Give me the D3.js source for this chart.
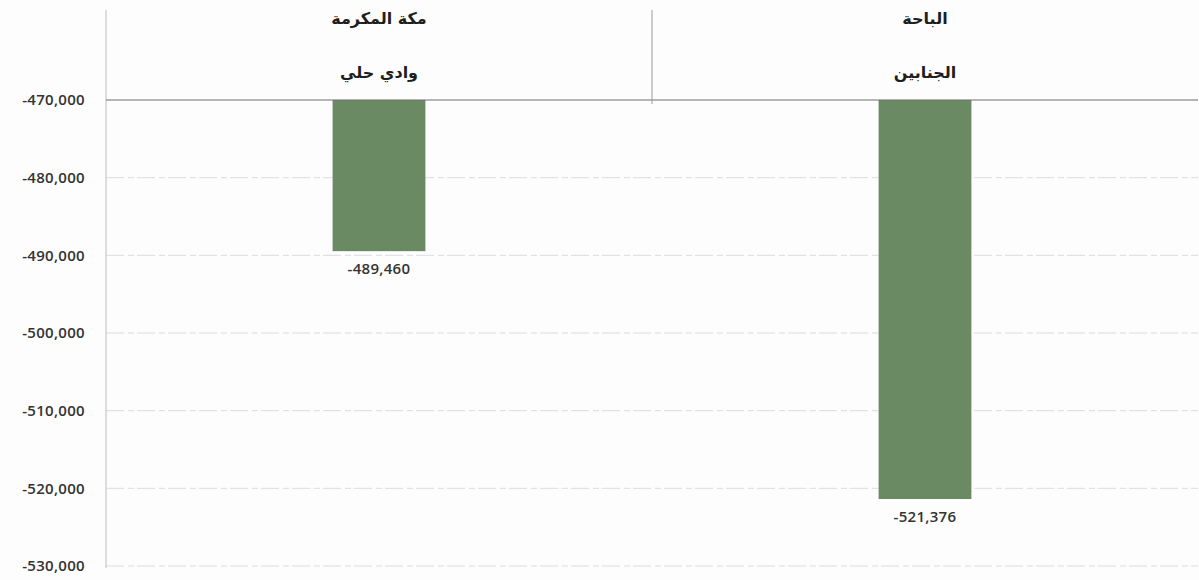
<!DOCTYPE html>
<html><head><meta charset="utf-8">
<script src="https://cdn.jsdelivr.net/npm/d3@7"></script>
<style>
html,body{margin:0;padding:0;background:#fdfdfd;}
svg{display:block;}
</style></head>
<body>
<svg id="chart" width="1199" height="580"></svg>
<script>
const regions = ["مكة المكرمة", "الباحة"];
const places = ["وادي حلي", "الجنابين"];
const values = [-489460, -521376];
const tickValues = [-470000, -480000, -490000, -500000, -510000, -520000, -530000];

(function () {
const svg = d3.select("#chart");
const mLeft = 106, mRight = 1198, mTop = 100, mBottom = 566;
const fmt = d3.formatLocale({decimal: ".", thousands: ",", grouping: [3], currency: ["", ""], minus: "-"}).format(",");
const numFont = "'Open Sans', 'Liberation Sans', sans-serif";

const x = d3.scaleBand().domain(d3.range(values.length)).range([mLeft, mRight]).padding(0);
const y = d3.scaleLinear().domain([-470000, -530000]).range([mTop, mBottom]);

// gridlines
svg.append("g").selectAll("line").data(tickValues.slice(1)).join("line")
  .attr("x1", mLeft).attr("x2", mRight)
  .attr("y1", d => y(d)).attr("y2", d => y(d))
  .attr("stroke", "#dcdcdc").attr("stroke-width", 1).attr("stroke-dasharray", "18,4,6,3");

// y axis
const yAxis = d3.axisLeft(y).tickValues(tickValues).tickFormat(fmt).tickSize(0).tickPadding(21);
const ya = svg.append("g").attr("transform", `translate(${mLeft},0)`).call(yAxis);
ya.select(".domain").remove();
ya.selectAll("text").attr("font-family", numFont)
  .attr("font-size", 15).attr("font-weight", 600).attr("letter-spacing", 0.3).attr("fill", "#333");
svg.append("line").attr("x1", mLeft).attr("x2", mLeft).attr("y1", 10).attr("y2", 568)
  .attr("stroke", "#bdbdbd").attr("stroke-width", 1);

// bars
const bw = x.bandwidth() * 0.17;
svg.append("g").selectAll("rect").data(values).join("rect")
  .attr("x", (d, i) => x(i) + x.bandwidth() / 2 - bw / 2)
  .attr("width", bw)
  .attr("y", y(-470000))
  .attr("height", d => y(d) - y(-470000))
  .attr("fill", "#6a8a63");

// value labels
svg.append("g").selectAll("text").data(values).join("text")
  .attr("x", (d, i) => x(i) + x.bandwidth() / 2)
  .attr("y", d => y(d) + 23)
  .attr("text-anchor", "middle")
  .attr("font-family", numFont)
  .attr("font-size", 15).attr("font-weight", 600).attr("letter-spacing", 0.3).attr("fill", "#333")
  .text(d => fmt(d));

// top category axis line
svg.append("line").attr("x1", mLeft).attr("x2", mRight).attr("y1", mTop).attr("y2", mTop)
  .attr("stroke", "#6f6f6f").attr("stroke-width", 1.2);

// category separators
svg.append("g").selectAll("line").data(d3.range(1, values.length)).join("line")
  .attr("x1", d => x(d)).attr("x2", d => x(d))
  .attr("y1", 10).attr("y2", mTop + 4)
  .attr("stroke", "#9a9a9a").attr("stroke-width", 1);

// category labels
const catFont = "'DejaVu Sans', 'Noto Sans', sans-serif";
svg.append("g").selectAll("text").data(regions).join("text")
  .attr("x", (d, i) => x(i) + x.bandwidth() / 2)
  .attr("y", 24)
  .attr("text-anchor", "middle").attr("direction", "rtl")
  .attr("font-family", catFont).attr("font-size", 16).attr("font-weight", "bold").attr("fill", "#1e1e1e")
  .text(d => d);
svg.append("g").selectAll("text").data(places).join("text")
  .attr("x", (d, i) => x(i) + x.bandwidth() / 2)
  .attr("y", 78)
  .attr("text-anchor", "middle").attr("direction", "rtl")
  .attr("font-family", catFont).attr("font-size", 16).attr("font-weight", "bold").attr("fill", "#1e1e1e")
  .text(d => d);
})();
</script>
</body></html>
